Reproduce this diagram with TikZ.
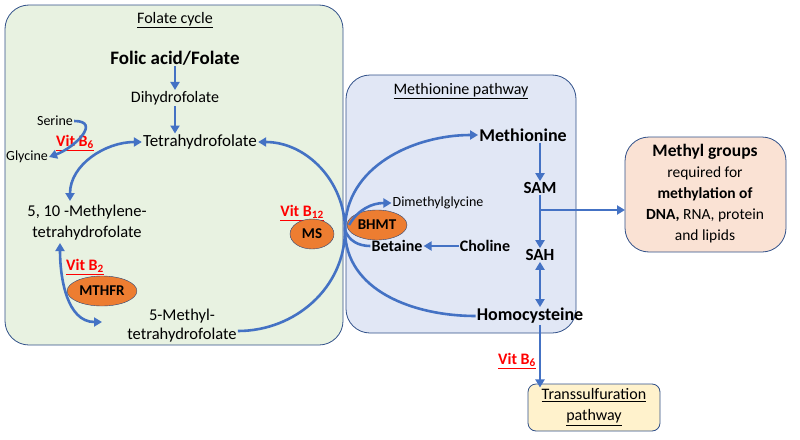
\documentclass[tikz,border=0pt]{standalone}
\usepackage{fontspec}
\setmainfont{Carlito}
\usetikzlibrary{shapes.geometric,arrows.meta}
\definecolor{arr}{RGB}{68,114,196}
\definecolor{grn}{RGB}{232,242,225}
\definecolor{blu}{RGB}{225,231,245}
\definecolor{org}{RGB}{237,125,49}
\definecolor{pch}{RGB}{250,226,212}
\definecolor{ylw}{RGB}{255,242,204}
\newcommand{\vit}[1]{\textcolor{red}{\underline{\textbf{Vit B$_{\mathbf{#1}}$}}}}
\tikzset{
  box/.style={draw=arr!70!black,rounded corners=24pt,line width=0.8pt},
  arw/.style={-{Triangle[length=8pt,width=9pt]},draw=arr,line width=2.6pt},
  dbl/.style={arw,{Triangle[length=8pt,width=9pt]}-{Triangle[length=8pt,width=9pt]}},
  ln/.style={draw=arr,line width=2.6pt},
  enz/.style={ellipse,draw=arr!60!black,fill=org,font=\bfseries\fontsize{15}{17}\selectfont,inner sep=2pt,minimum width=64pt,minimum height=30pt},
}
\begin{document}
\begin{tikzpicture}[x=1pt,y=-1pt,font=\fontsize{16}{19}\selectfont,inner sep=1pt]
    \useasboundingbox (0,0) rectangle (800,439);
    % boxes
    \draw [box,fill=grn] (5,5) rectangle (343,345);
    \draw [box,fill=blu] (346,75) rectangle (576,333);
    \draw [box,fill=pch] (625,137) rectangle (786,252);
    \draw [box,fill=ylw,rounded corners=8pt] (528,384) rectangle (660,431);
    \node (FC) at (175,20) {\underline{Folate cycle}};
    \node (MP) at (461,91) {\underline{Methionine pathway}};
    \node (TS) at (594,407) [align=center,font=\fontsize{16}{21}\selectfont]{\underline{Transsulfuration}\\\underline{pathway}};
    \node (MG) at (705,194) [align=center,font=\fontsize{15.5}{21}\selectfont]{\textbf{\fontsize{17.5}{21}\selectfont Methyl groups}\\required for\\\textbf{methylation of}\\\textbf{DNA,} RNA, protein\\and lipids};
    % folate side
    \node (FA) at (175,58) {\bfseries\fontsize{19}{21}\selectfont Folic acid/Folate};
    \node (DHF) at (175,98) {Dihydrofolate};
    \node (THF) at (200,142) {\fontsize{17}{20}\selectfont Tetrahydrofolate};
    \node (SER) at (55,121) {\fontsize{14}{16}\selectfont Serine};
    \node (GLY) at (27,157) {\fontsize{14}{16}\selectfont Glycine};
    \node (V6a) at (75,143) {\vit{6}};
    \node (MTH) at (87,223) [align=center,font=\fontsize{16.5}{21}\selectfont]{5, 10 -Methylene-\\tetrahydrofolate};
    \node (V2) at (85,267) {\vit{2}};
    \node (MTHFR) at (102,291) [enz]{MTHFR};
    \node (MET5) at (182,326) [align=center,font=\fontsize{16.5}{19}\selectfont]{5-Methyl-\\tetrahydrofolate};
    \node (V12) at (302,213) {\vit{12}};
    \node (MS) at (312,234) [enz,minimum width=44pt]{MS};
    % methionine side
    \node (BHMT) at (377,225) [enz,minimum width=54pt]{BHMT};
    \node (DMG) at (438,203) {\fontsize{14}{16}\selectfont Dimethylglycine};
    \node (BET) at (397,246) {\bfseries Betaine};
    \node (CHO) at (485,246) {\bfseries Choline};
    \node (MET) at (523,135) {\bfseries\fontsize{18}{20}\selectfont Methionine};
    \node (SAM) at (540,188) {\bfseries\fontsize{17}{20}\selectfont SAM};
    \node (SAH) at (540,255) {\bfseries\fontsize{17}{20}\selectfont SAH};
    \node (HCY) at (530,316) {\bfseries\fontsize{18}{20}\selectfont Homocysteine};
    \node (V6b) at (517,361) {\vit{6}};
    \coordinate (J) at (345,230);
    \coordinate (BR) at (540,210);
    \coordinate (BX) at (625,210);

    \draw [arw] (FA.south) -- (DHF.north);
    \draw [arw] (DHF.south) -- (DHF.south |- THF.north);
    \draw [arw] (SER.east) to[out=0,in=20,looseness=1.6] (GLY.east);
    \draw [dbl] (70,201) to[out=90,in=180] (THF.west);
    \draw [dbl] (60,243) to[out=-90,in=180] (102,322);
    \draw [arw] (MET5.east) ++(0,5) to[out=0,in=-90] (J) to[out=90,in=0] (THF.east);
    \draw [arw] (HCY.west) to[out=180,in=-90] (J) to[out=90,in=180] (MET.west);
    \draw [arw] (J) ++(4,-5) to[out=60,in=180] (DMG.west);
    \draw [ln] (BET.west) to[out=180,in=-70] (J);
    \draw [arw] (CHO) -- (BET);
    \draw [arw] (SAM.north |- MET.south) -- (SAM.north);
    \draw [arw] (SAM.south) -- (SAH.north);
    \draw [dbl] (SAH.south) -- (SAH.south |- HCY.north);
    \draw [arw] (BR) -- (BX);
    \draw [arw] (HCY.south -| SAH.south) -- (TS.north -| SAH.south);
\end{tikzpicture}
\end{document}
